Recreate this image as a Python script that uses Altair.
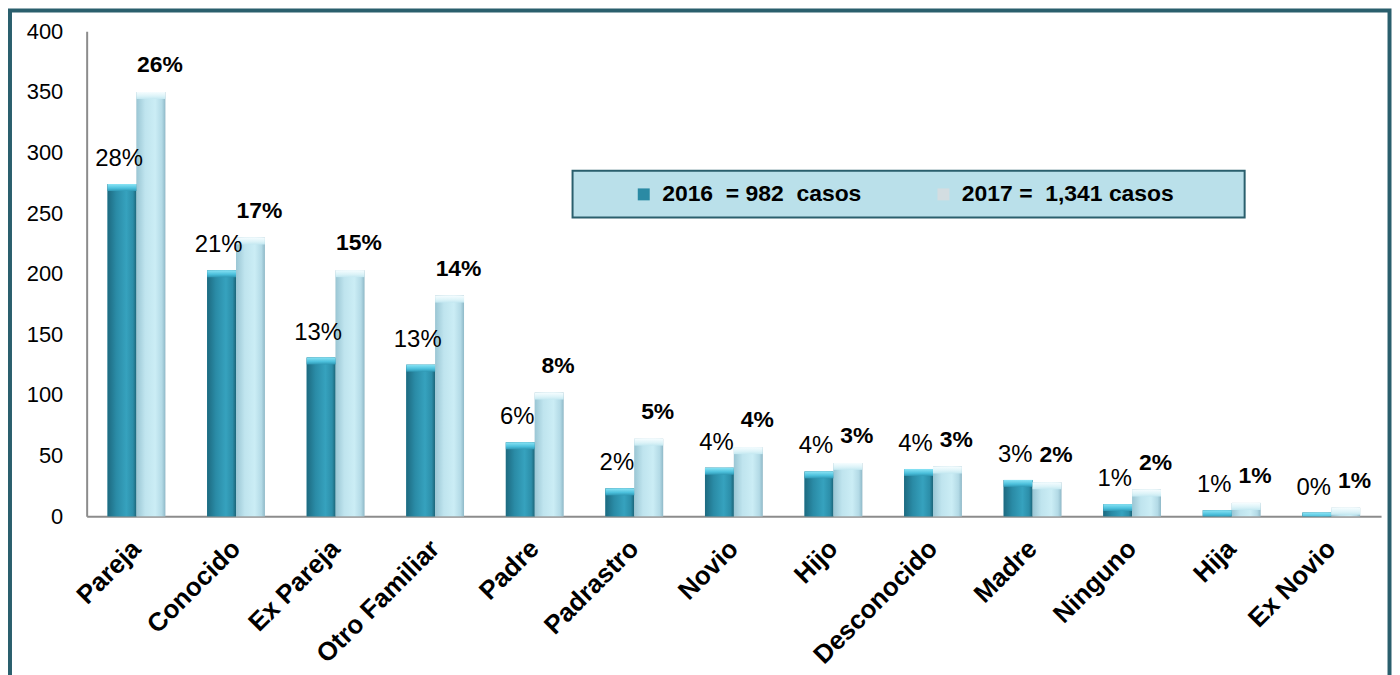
import altair as alt
import pandas as pd

# ---------------- data ----------------
categories = ["Pareja", "Conocido", "Ex Pareja", "Otro Familiar", "Padre", "Padrastro",
              "Novio", "Hijo", "Desconocido", "Madre", "Ninguno", "Hija", "Ex Novio"]
values_2016 = [274, 203, 131, 125, 61, 23, 40, 37, 39, 30, 10, 5, 3]
values_2017 = [350, 230, 203, 182, 102, 64, 57, 44, 41, 28, 22, 11, 7]
pct_2016 = ["28%", "21%", "13%", "13%", "6%", "2%", "4%", "4%", "4%", "3%", "1%", "1%", "0%"]
pct_2017 = ["26%", "17%", "15%", "14%", "8%", "5%", "4%", "3%", "3%", "2%", "2%", "1%", "1%"]
y_ticks = [0, 50, 100, 150, 200, 250, 300, 350, 400]

NB = "\u00a0"
series_2016 = "2016" + NB * 2 + "=" + NB + "982" + NB * 2 + "casos"
series_2017 = "2017" + NB + "=" + NB * 2 + "1,341" + NB + "casos"
series = [series_2016, series_2017]

rows = []
for c, v, p in zip(categories, values_2016, pct_2016):
    rows.append({"cat": c, "serie": series_2016, "value": v, "pct": p})
for c, v, p in zip(categories, values_2017, pct_2017):
    rows.append({"cat": c, "serie": series_2017, "value": v, "pct": p})
df = pd.DataFrame(rows)

FONT = "Liberation Sans"
FRAME = "#2a5f6d"

x_enc = alt.X("cat:N", sort=categories, title=None,
              scale=alt.Scale(paddingInner=0.42, paddingOuter=0.21),
              axis=alt.Axis(labelAngle=-45, labelFont=FONT, labelFontSize=26,
                            labelFontWeight="bold", labelColor="black",
                            labelPadding=19, labelOffset=-9, ticks=False, labelLimit=400,
                            domainColor="#8c8c8c", domainWidth=2))
xoff_enc = alt.XOffset("serie:N", scale=alt.Scale(domain=series, paddingInner=0, paddingOuter=0))
y_enc = alt.Y("value:Q", title=None,
              scale=alt.Scale(domain=[0, 400], nice=False),
              axis=alt.Axis(values=y_ticks, grid=False, ticks=False, labelFont=FONT,
                            labelFontSize=22, labelColor="black", labelPadding=24,
                            domainColor="#8c8c8c", domainWidth=2))

base = alt.Chart(df)

# base bars carry the legend
bars = base.mark_bar().encode(
    x=x_enc, xOffset=xoff_enc, y=y_enc,
    color=alt.Color("serie:N", scale=alt.Scale(domain=series, range=["#2b8aa4", "#d3dde1"]),
                    legend=alt.Legend(orient="none", legendX=548, legendY=152,
                                      direction="horizontal", title=None,
                                      labelFont=FONT, labelFontSize=23, labelFontWeight="bold",
                                      labelColor="black", labelLimit=500,
                                      symbolType="square", symbolSize=144,
                                      symbolStrokeWidth=0, labelOffset=7, columnPadding=70,
                                      padding=0))
)

grad_dark = alt.LinearGradient(gradient="linear", x1=0, x2=1, y1=0, y2=0, stops=[
    alt.GradientStop(color="#1d6a80", offset=0),
    alt.GradientStop(color="#2a8ba6", offset=0.3),
    alt.GradientStop(color="#36a2be", offset=0.65),
    alt.GradientStop(color="#2c8ea9", offset=0.88),
    alt.GradientStop(color="#1b6478", offset=1)])
grad_light = alt.LinearGradient(gradient="linear", x1=0, x2=1, y1=0, y2=0, stops=[
    alt.GradientStop(color="#9ac6d4", offset=0),
    alt.GradientStop(color="#bfe4ee", offset=0.3),
    alt.GradientStop(color="#cbedf5", offset=0.65),
    alt.GradientStop(color="#b3dae6", offset=0.88),
    alt.GradientStop(color="#8fb9c8", offset=1)])
cap_dark = alt.LinearGradient(gradient="linear", x1=0, x2=0, y1=0, y2=1, stops=[
    alt.GradientStop(color="#8ae4f5", offset=0),
    alt.GradientStop(color="#4cc0dc", offset=0.6),
    alt.GradientStop(color="#2f98b4", offset=1)])
cap_light = alt.LinearGradient(gradient="linear", x1=0, x2=0, y1=0, y2=1, stops=[
    alt.GradientStop(color="#f6fdff", offset=0),
    alt.GradientStop(color="#dcf3f8", offset=0.6),
    alt.GradientStop(color="#c4e8f1", offset=1)])

f16 = alt.datum.serie == series_2016
f17 = alt.datum.serie == series_2017

shade16 = base.transform_filter(f16).mark_bar(color=grad_dark).encode(x=x_enc, xOffset=xoff_enc, y=y_enc)
shade17 = base.transform_filter(f17).mark_bar(color=grad_light).encode(x=x_enc, xOffset=xoff_enc, y=y_enc)
cap16 = base.transform_filter(f16).mark_bar(color=cap_dark, y2Offset=7, clip=True).encode(
    x=x_enc, xOffset=xoff_enc, y=y_enc, y2="value:Q")
cap17 = base.transform_filter(f17).mark_bar(color=cap_light, y2Offset=7, clip=True).encode(
    x=x_enc, xOffset=xoff_enc, y=y_enc, y2="value:Q")

text16 = base.transform_filter(f16).mark_text(font=FONT, fontSize=24, color="black",
                                              baseline="alphabetic", dy=-18, dx=-3).encode(
    x=x_enc, xOffset=xoff_enc, y=y_enc, text="pct:N")
text17 = base.transform_filter(f17).mark_text(font=FONT, fontSize=23, fontWeight="bold",
                                              color="black", baseline="alphabetic",
                                              dy=-20, dx=9).encode(
    x=x_enc, xOffset=xoff_enc, y=y_enc, text="pct:N")

deco = alt.Chart(pd.DataFrame({"d": [0]}))
legend_box = deco.mark_rect(fill="#bae0ea", stroke=FRAME, strokeWidth=2).encode(
    x=alt.value(488), x2=alt.value(1163), y=alt.value(140), y2=alt.value(187))
frame = deco.mark_rect(fillOpacity=0, stroke=FRAME, strokeWidth=4, clip=False).encode(
    x=alt.value(-77), x2=alt.value(1308.5), y=alt.value(-21), y2=alt.value(720))

chart = alt.layer(frame, legend_box, bars, shade16, shade17, cap16, cap17, text16, text17).properties(
    width=1300, height=487,
    autosize=alt.AutoSizeParams(type="none"),
    padding={"left": 79, "top": 22, "right": 11, "bottom": 158},
    background="white",
).configure_view(stroke=None)

chart.save("out.html", embed_options={"renderer": "svg", "actions": False})
